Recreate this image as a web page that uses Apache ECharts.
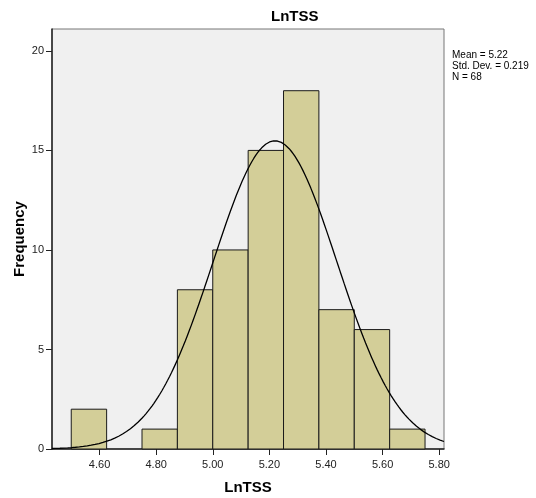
<!DOCTYPE html>
<html>
<head>
<meta charset="utf-8">
<script src="https://cdn.jsdelivr.net/npm/echarts@6/dist/echarts.min.js"></script>
<style>html,body{margin:0;padding:0;background:#fff}#c{width:536px;height:498px}</style>
</head>
<body>
<div id="c"></div>
<script>
// Histogram bins (lower edge, upper edge) and counts
var binStarts = [4.500, 4.625, 4.750, 4.875, 5.000, 5.125, 5.250, 5.375, 5.500, 5.625];
var binWidth = 0.125;
var counts    = [2, 0, 1, 8, 10, 15, 18, 7, 6, 1];
var xTicks = [4.60, 4.80, 5.00, 5.20, 5.40, 5.60, 5.80];
var yTicks = [0, 5, 10, 15, 20];
var stats = { mean: 5.22, sd: 0.219, n: 68 };
var statLines = ['Mean = 5.22', 'Std. Dev. = 0.219', 'N = 68'];

var xMin = 4.432, xMax = 5.817, yMax = 21.1;

// Normal curve fitted from the reported statistics (as SPSS draws it)
var curve = [];
for (var i = 0; i <= 200; i++) {
  var x = xMin + (xMax - xMin) * i / 200;
  var z = (x - stats.mean) / stats.sd;
  var y = stats.n * binWidth * Math.exp(-0.5 * z * z) / (stats.sd * Math.sqrt(2 * Math.PI));
  curve.push([x, y]);
}

var barData = [];
for (var j = 0; j < counts.length; j++) {
  if (counts[j] > 0) barData.push([binStarts[j], binStarts[j] + binWidth, counts[j]]);
}

var chart = echarts.init(document.getElementById('c'), null, { renderer: 'canvas' });
var font = 'Liberation Sans, Arial, sans-serif';
chart.setOption({
  animation: false,
  backgroundColor: '#ffffff',
  title: {
    text: 'LnTSS', left: 271, top: 9, padding: 0,
    textStyle: { fontFamily: font, fontSize: 15, fontWeight: 'bold', color: '#000' }
  },
  graphic: statLines.map(function (t, k) {
    return { type: 'text', left: 452, top: 50 + k * 11,
      style: { text: t, font: '10px ' + font, fill: '#000' } };
  }),
  grid: {
    left: 52, right: 92, top: 29, bottom: 49,
    containLabel: false, outerBoundsMode: 'none',
    show: true, backgroundColor: '#F0F0F0', borderColor: '#777', borderWidth: 1
  },
  xAxis: {
    type: 'value', min: xMin, max: xMax,
    name: 'LnTSS', nameLocation: 'middle', nameGap: 31,
    nameTextStyle: { fontFamily: font, fontSize: 15, fontWeight: 'bold', color: '#000' },
    splitLine: { show: false },
    axisLine: { show: true, onZero: false, lineStyle: { color: '#222', width: 1.5 } },
    axisTick: { show: true, inside: false, customValues: xTicks, length: 6, lineStyle: { color: '#222' } },
    axisLabel: { customValues: xTicks, fontFamily: font, fontSize: 11, color: '#222', margin: 10,
      formatter: function (v) { return v.toFixed(2); } }
  },
  yAxis: {
    type: 'value', min: 0, max: yMax,
    name: 'Frequency', nameLocation: 'middle', nameGap: 25, nameMoveOverlap: false,
    nameTextStyle: { fontFamily: font, fontSize: 15, fontWeight: 'bold', color: '#000' },
    splitLine: { show: false },
    axisLine: { show: true, lineStyle: { color: '#222', width: 1.5 } },
    axisTick: { show: true, inside: false, customValues: yTicks, length: 6, lineStyle: { color: '#222' } },
    axisLabel: { customValues: yTicks, fontFamily: font, fontSize: 11, color: '#222', margin: 8 }
  },
  series: [
    {
      type: 'custom',
      data: barData,
      encode: { x: [0, 1], y: 2 },
      renderItem: function (params, api) {
        var p0 = api.coord([api.value(0), 0]);
        var p1 = api.coord([api.value(1), api.value(2)]);
        return {
          type: 'rect',
          shape: { x: p0[0], y: p1[1], width: p1[0] - p0[0], height: p0[1] - p1[1] },
          style: { fill: '#D3CE98', stroke: '#1a1a1a', lineWidth: 1 }
        };
      }
    },
    {
      type: 'line', data: curve, showSymbol: false, smooth: false, z: 5,
      lineStyle: { color: '#000', width: 1.3 }
    }
  ]
});
</script>
</body>
</html>
